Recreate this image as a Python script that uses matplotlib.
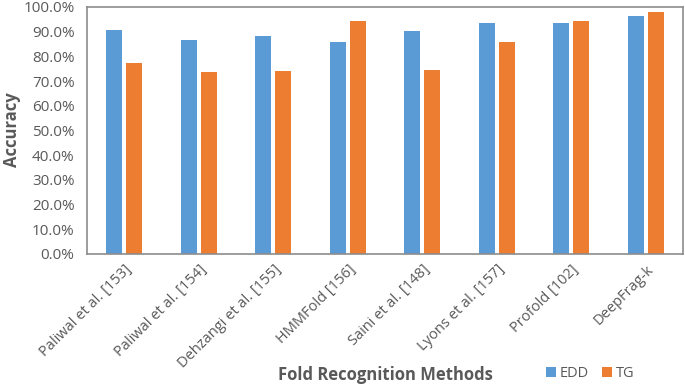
import numpy as np
import matplotlib.pyplot as plt

methods = ["Paliwal et al. [153]", "Paliwal et al. [154]", "Dehzangi et al. [155]",
           "HMMFold [156]", "Saini et al. [148]", "Lyons et al. [157]",
           "Profold [102]", "DeepFrag-k"]
edd = [90.6, 86.5, 88.4, 86.0, 90.2, 93.4, 93.4, 96.4]
tg = [77.3, 73.5, 73.9, 94.2, 74.6, 85.7, 94.5, 98.0]
yticks = np.arange(0, 101, 10)

grey = "#595959"
plt.rcParams['font.family'] = ['Open Sans', 'DejaVu Sans']

fig = plt.figure(figsize=(6.85, 3.87), dpi=100)
ax = fig.add_axes([0.127, 0.344, 0.870, 0.638])

x = np.arange(len(methods))
w = 0.215
ax.bar(x - 0.135, edd, w, color="#5B9BD5", label="EDD")
ax.bar(x + 0.135, tg, w, color="#ED7D31", label="TG")

ax.set_xlim(-0.5, len(methods) - 0.5)
ax.set_ylim(0, 100)
ax.set_yticks(yticks)
ax.set_yticklabels([f"{v:.1f}%" for v in yticks], color=grey, fontsize=11)
ax.set_xticks(x)
ax.set_xticklabels(methods, rotation=45, ha="right", rotation_mode="anchor",
                   color=grey, fontsize=10.5)
ax.tick_params(axis="y", length=0, pad=9)
ax.tick_params(axis="x", length=0, pad=6)
for s in ax.spines.values():
    s.set_color("#8c8c8c")
    s.set_linewidth(1.2)

fig.text(0.018, 0.665, "Accuracy", color=grey, fontsize=12, fontweight="bold",
         rotation=90, ha="center", va="center")
fig.text(0.563, 0.03, "Fold Recognition Methods", color=grey, fontsize=12,
         fontweight="bold", ha="center", va="center")
fig.legend(loc="center", bbox_to_anchor=(0.862, 0.035), ncol=2, frameon=False,
           handlelength=0.65, handleheight=0.65, handletextpad=0.3, columnspacing=0.9,
           labelcolor=grey, fontsize=10.5)

fig.savefig("out.png", dpi=100)
